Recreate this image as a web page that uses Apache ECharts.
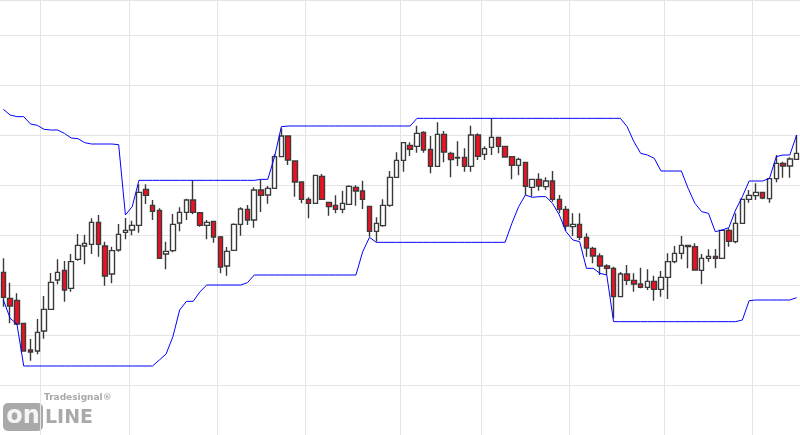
<!DOCTYPE html>
<html><head><meta charset="utf-8">
<script src="https://cdn.jsdelivr.net/npm/echarts@6/dist/echarts.min.js"></script>
<style>html,body{margin:0;padding:0;background:#fff}#c{width:800px;height:435px}</style>
</head><body><div id="c"></div>
<script>
// OHLC in chart price units
const opens=[488,410,404,335,255,252,312,377,465,494,440,527,567,572,638,567,483,555,608,615,629,737,689,674,543,553,636,668,705,667,629,641,594,507,554,632,677,645,735,
720,740,835,897,822,759,707,695,776,698,689,677,692,743,732,686,611,628,689,773,824,869,866,908,857,806,902,845,833,833,806,900,842,863,893,866,835,809,818,743,
767,745,762,707,677,625,632,593,560,537,507,500,415,483,464,453,443,461,437,473,520,545,569,565,494,530,536,530,614,580,635,707,718,728,709,769,815,807,827];
const closes=[413,387,333,252,249,308,377,458,488,435,520,569,575,638,572,477,553,602,614,629,728,719,671,530,551,632,668,705,668,629,638,594,504,551,632,678,645,735,719,
740,835,897,825,759,707,695,779,707,685,677,695,746,732,707,611,635,689,773,824,877,857,905,855,806,902,849,826,831,806,900,836,859,893,866,834,809,827,746,767,
747,762,707,677,627,632,593,561,537,507,500,415,483,464,453,443,461,437,473,520,545,569,565,495,530,536,530,614,581,635,707,719,728,711,769,815,807,828,845];
const lows=[385,335,330,250,223,242,289,377,452,400,430,523,512,543,535,448,455,550,587,599,607,693,645,530,497,548,611,645,662,625,587,577,485,478,554,598,630,622,669,
694,740,835,810,715,695,650,693,707,658,665,665,690,688,678,595,580,625,685,773,790,837,847,847,785,806,818,773,807,790,790,825,825,840,845,834,767,779,720,715,
733,735,700,665,613,597,585,535,515,480,480,350,415,450,430,440,435,403,415,408,515,527,500,495,452,520,500,530,565,575,635,697,705,707,697,758,772,772,825];
const highs=[530,457,425,335,288,348,417,486,527,522,543,603,601,650,660,580,565,633,651,643,752,752,705,680,580,663,683,709,765,667,645,641,597,564,635,683,690,743,765,
747,842,920,897,822,759,713,779,783,698,719,733,749,749,763,686,653,707,792,848,879,878,928,911,897,938,912,850,881,860,928,905,866,950,893,866,835,832,818,767,
785,773,792,720,687,665,665,605,565,545,512,505,489,510,485,502,497,478,492,545,567,597,569,575,543,557,558,614,620,665,709,735,755,728,769,840,820,833,900];
const upperBand=[977,960,955,955,933,929,917,915,915,905,891,889,877,873,873,873,873,871,660,685,764,764,764,764,764,764,764,764,764,764,764,764,764,764,764,764,764,764,767,
767,835,925,927,927,927,927,927,927,927,927,927,927,927,927,927,927,927,927,927,927,927,950,950,950,950,950,950,950,950,950,950,950,950,950,950,950,950,950,950,
950,950,950,950,950,950,950,950,950,950,950,950,950,925,880,845,840,830,792,792,792,792,740,695,670,665,610,615,622,675,715,762,762,762,770,835,840,840,900];
const lowerBand=[405,350,333,207,207,207,207,207,207,207,207,207,207,207,207,207,207,207,207,207,207,207,207,225,243,295,375,401,401,430,450,450,450,450,450,450,457,480,480,
480,480,480,480,480,480,480,480,480,480,480,480,480,480,550,593,578,578,578,578,578,578,578,578,578,578,578,578,578,578,578,578,578,578,578,578,635,685,720,713,
715,715,695,660,610,585,580,500,500,485,480,340,340,340,340,340,340,340,340,340,340,340,340,340,340,340,340,340,340,340,345,403,405,405,405,405,405,405,412];
const categories=opens.map((_,i)=>String(i));
const vGridIdx=[6,19,32,45,59,71,84,98,111];

const ohlc=opens.map((o,i)=>[o,closes[i],lows[i],highs[i]]);
const chart=echarts.init(document.getElementById('c'));
chart.setOption({
  animation:false,
  grid:{left:0,right:0,top:0,bottom:0},
  xAxis:{type:'category',data:categories,boundaryGap:true,
    axisLine:{show:false},axisTick:{show:false},axisLabel:{show:false},
    splitLine:{show:true,interval:(i)=>vGridIdx.includes(i),lineStyle:{color:'#e4e4e4',width:1}}},
  yAxis:{type:'value',min:0,max:1305,interval:150,axisLine:{show:false},axisTick:{show:false},axisLabel:{show:false},
    splitLine:{lineStyle:{color:'#e4e4e4',width:1}}},
  series:[
    {type:'candlestick',data:ohlc,barWidth:5,
     itemStyle:{color:'#ffffff',color0:'#ee1122',borderColor:'#3a3a3a',borderColor0:'#3a3a3a',borderWidth:1.4}},
    {type:'line',data:upperBand,symbol:'none',lineStyle:{color:'#0000ff',width:1}},
    {type:'line',data:lowerBand,symbol:'none',lineStyle:{color:'#0000ff',width:1}}
  ],
  graphic:[
    {type:'rect',shape:{x:3,y:403,width:40,height:28,r:5},style:{fill:'#a9a9a9'}},
    {type:'text',style:{x:23,y:417,text:'on',fill:'#f4f4f4',align:'center',verticalAlign:'middle',font:'bold 24px "DejaVu Sans"'}},
    {type:'text',style:{x:45,y:409,text:'LINE',fill:'#a9a9a9',font:'bold 19px "DejaVu Sans"'}},
    {type:'text',style:{x:44,y:393,text:'Tradesignal®',fill:'#a9a9a9',font:'bold 9px "DejaVu Sans"'}}
  ]
});
</script></body></html>
